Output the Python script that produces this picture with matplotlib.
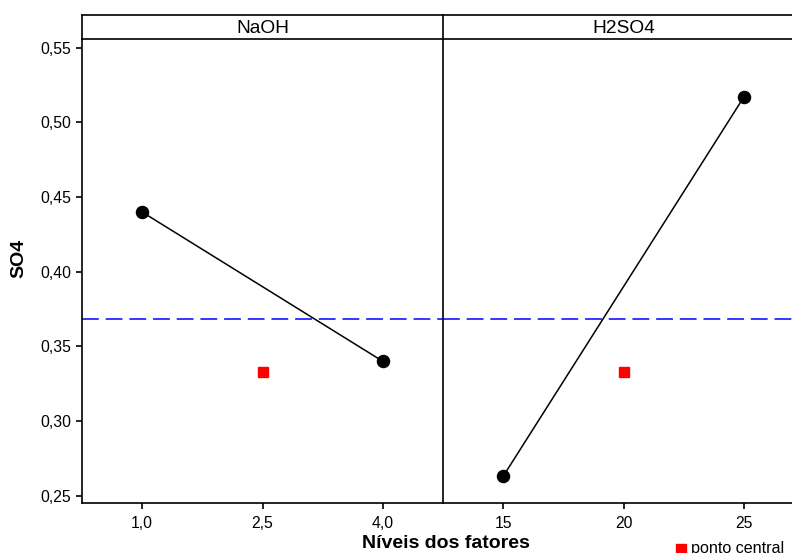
import matplotlib
matplotlib.use("Agg")
import matplotlib.pyplot as plt
from matplotlib.lines import Line2D
from matplotlib.ticker import FuncFormatter

plt.rcParams['font.family'] = ['Liberation Sans', 'DejaVu Sans']

# ---- data ----
factors = ["NaOH", "H2SO4"]
naoh_levels = [1.0, 4.0]
naoh_means = [0.440, 0.340]
naoh_center_x = [2.5]
naoh_center_y = [0.333]
h2so4_levels = [15, 25]
h2so4_means = [0.263, 0.517]
h2so4_center_x = [20]
h2so4_center_y = [0.333]
grand_mean = 0.3683
naoh_ticks = [1.0, 2.5, 4.0]
h2so4_ticks = [15, 20, 25]
y_ticks = [0.25, 0.30, 0.35, 0.40, 0.45, 0.50, 0.55]

W, H = 792, 553
fig = plt.figure(figsize=(W / 100, H / 100), dpi=100)

def fx(px):
    return px / W

def fy(py):
    return 1 - py / H

left_px, div_px, pw = 82, 443, 361
bot_px, top_px, strip_top = 502.7, 39, 15

ax1 = fig.add_axes([fx(left_px), fy(bot_px), pw / W, (bot_px - top_px) / H])
ax2 = fig.add_axes([fx(div_px), fy(bot_px), pw / W, (bot_px - top_px) / H])
s1 = fig.add_axes([fx(left_px), fy(top_px), pw / W, (top_px - strip_top) / H])
s2 = fig.add_axes([fx(div_px), fy(top_px), pw / W, (top_px - strip_top) / H])

lw_spine = 1.2
ylim = (0.2453, 0.5559)

comma = FuncFormatter(lambda v, p: f"{v:.2f}".replace(".", ","))
comma1 = FuncFormatter(lambda v, p: f"{v:.1f}".replace(".", ","))
intf = FuncFormatter(lambda v, p: f"{v:.0f}")

for ax in (ax1, ax2):
    ax.axhline(grand_mean, color=(0, 0, 1), lw=1.1, dashes=(11, 4.5), zorder=1)
    ax.set_ylim(*ylim)
    ax.spines['top'].set_visible(False)
    ax.spines['right'].set_visible(False)
    for s in ('left', 'bottom'):
        ax.spines[s].set_linewidth(lw_spine)
    ax.tick_params(axis='both', direction='out', length=4.3, width=lw_spine,
                   labelsize=11.3, pad=3.5)
    ax.tick_params(axis='x', pad=5)

ax1.plot(naoh_levels, naoh_means, color='black', lw=1.1, marker='o',
         markersize=8.7, zorder=3)
ax1.plot(naoh_center_x, naoh_center_y, ls='none', marker='s', color='red',
         markersize=7.3, zorder=3)
ax1.set_xlim(0.25, 4.75)
ax1.set_xticks(naoh_ticks)
ax1.xaxis.set_major_formatter(comma1)
ax1.set_yticks(y_ticks)
ax1.yaxis.set_major_formatter(comma)

ax2.plot(h2so4_levels, h2so4_means, color='black', lw=1.1, marker='o',
         markersize=8.7, zorder=3)
ax2.plot(h2so4_center_x, h2so4_center_y, ls='none', marker='s', color='red',
         markersize=7.3, zorder=3)
ax2.set_xlim(12.5, 27.5)
ax2.set_xticks(h2so4_ticks)
ax2.xaxis.set_major_formatter(intf)
ax2.set_yticks([])

for s, name in zip((s1, s2), factors):
    s.set_xticks([])
    s.set_yticks([])
    s.spines['right'].set_visible(False)
    for sp in ('left', 'top', 'bottom'):
        s.spines[sp].set_linewidth(lw_spine)
    s.text(0.5, 0.45, name, ha='center', va='center', fontsize=13.8,
           transform=s.transAxes)

# axis labels
fig.text(fx(19), fy(258.5), "SO4", rotation=90, ha='center', va='center',
         fontsize=14, fontweight='bold')
fig.text(fx(446), fy(543), "Níveis dos fatores", ha='center', va='center',
         fontsize=14, fontweight='bold')

# legend for center points
fig.add_artist(Line2D([fx(681)], [fy(549)], marker='s', color='red',
                      markersize=7.3, ls='none', transform=fig.transFigure))
fig.text(fx(691), fy(553.5), "ponto central", ha='left', va='baseline',
         fontsize=11.6)

fig.savefig("out.png", dpi=100)
